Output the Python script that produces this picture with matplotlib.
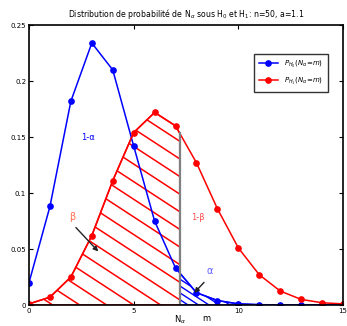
import numpy as np
import matplotlib
matplotlib.use("Agg")
import matplotlib.pyplot as plt
from matplotlib.patches import Polygon

# ---- data ----
m = np.arange(0, 16)
p_h0 = [0.020, 0.088, 0.182, 0.234, 0.210, 0.142, 0.075, 0.033,
        0.011, 0.004, 0.001, 0.0003, 0.0001, 0.0, 0.0, 0.0]
p_h1 = [0.001, 0.007, 0.025, 0.062, 0.111, 0.154, 0.172, 0.160,
        0.127, 0.086, 0.051, 0.027, 0.0125, 0.005, 0.002, 0.001]
n_alpha = 7.2   # threshold
title = "Distribution de probabilité de N$_\\alpha$ sous H$_0$ et H$_1$: n=50, a=1.1"
leg_labels = [r"$P_{H_0}(N_\alpha\!=\!m)$", r"$P_{H_1}(N_\alpha\!=\!m)$"]

plt.rcParams["font.family"] = "DejaVu Sans"
plt.rcParams["mathtext.fontset"] = "dejavusans"

fig = plt.figure(figsize=(3.47, 3.26), dpi=100)
ax = fig.add_axes([0.0836, 0.0644, 0.9049, 0.8586])

x = np.asarray(m, float)
h0 = np.asarray(p_h0)
h1 = np.asarray(p_h1)


def region(xs, ys, lo, hi):
    # polygon under the curve between lo and hi
    xi = np.concatenate([[lo], xs[(xs > lo) & (xs < hi)], [hi]])
    yi = np.interp(xi, xs, ys)
    return np.column_stack([np.concatenate([[lo], xi, [hi]]),
                            np.concatenate([[0], yi, [0]])])


def hatch(poly, color, step, start, lw):
    patch = Polygon(poly, closed=True, facecolor="none", edgecolor=color, lw=lw)
    ax.add_patch(patch)
    slope = 0.0122
    for x0 in np.arange(start - 40 * step, 30, step):
        ln, = ax.plot([x0 - 30, x0 + 30], [slope * 30, -slope * 30], color=color, lw=lw)
        ln.set_clip_path(patch)


# beta area (H1 below threshold) and alpha area (H0 above threshold)
hatch(region(x, h1, 0, n_alpha), "red", 1.29, 5.0, 1.1)
hatch(region(x, h0, n_alpha, 15), "blue", 0.5, 7.6, 1.0)

ax.plot(x, h0, "-o", color="blue", lw=1.1, ms=3.8, label=leg_labels[0])
ax.plot(x, h1, "-o", color="red", lw=1.1, ms=3.8, label=leg_labels[1])
ax.plot([n_alpha, n_alpha], [0, np.interp(n_alpha, x, h1)], color="gray", lw=1.6)

ax.text(2.83, 0.15, "1-α", color="blue", fontsize=6, ha="center", va="center")
ax.text(8.07, 0.078, "1-β", color="#ff5050", fontsize=6, ha="center", va="center")
ax.text(2.05, 0.079, "β", color="#ff7050", fontsize=7, ha="center", va="center")
ax.text(8.65, 0.030, "α", color="#6060ff", fontsize=7, ha="center", va="center")
ax.annotate("", xy=(3.4, 0.046), xytext=(2.15, 0.071),
            arrowprops=dict(arrowstyle="-|>", color="#222222", lw=1.0, mutation_scale=7))
ax.annotate("", xy=(7.8, 0.009), xytext=(8.45, 0.022),
            arrowprops=dict(arrowstyle="-|>", color="#222222", lw=1.0, mutation_scale=7))

ax.text(n_alpha, -0.008, "N$_\\alpha$", fontsize=6, ha="center", va="top")
ax.text(8.45, -0.008, "m", fontsize=6, ha="center", va="top")

ax.set_xlim(0, 15)
ax.set_ylim(0, 0.25)
ax.set_xticks([0, 5, 10, 15])
ax.set_yticks([0, 0.05, 0.1, 0.15, 0.2, 0.25])
ax.set_yticklabels(["0", "0.05", "0.1", "0.15", "0.2", "0.25"])
ax.tick_params(direction="in", length=3, width=0.8, labelsize=5, pad=2,
               top=True, right=True)
for s in ax.spines.values():
    s.set_linewidth(1.2)

ax.set_title(title, fontsize=5.6, pad=6)
leg = ax.legend(loc="upper right", fontsize=5, frameon=True, fancybox=False,
                edgecolor="black", handlelength=2.8, borderpad=0.7,
                labelspacing=0.9, bbox_to_anchor=(0.962, 0.91))
leg.get_frame().set_linewidth(1.0)

fig.savefig("out.png", dpi=100)
